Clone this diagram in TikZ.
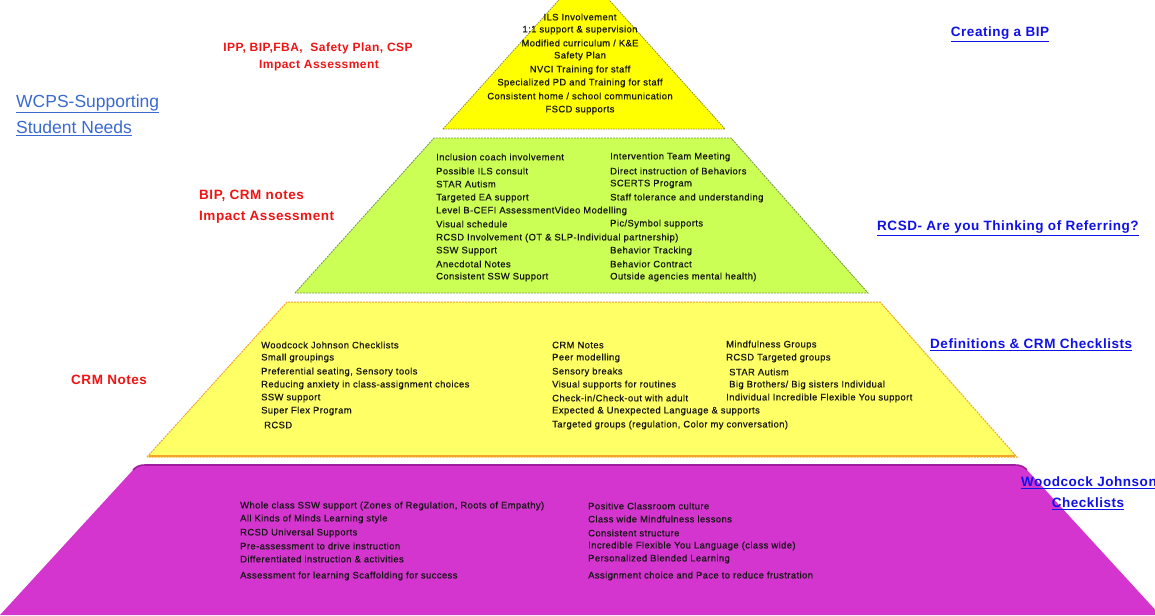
\documentclass[tikz,border=0pt]{standalone}
\usepackage{fontspec}
\setmainfont{Liberation Sans}
\newfontfamily\bodyf[LetterSpace=4.5, FakeBold=0.5]{Liberation Sans}
\newfontfamily\labf[LetterSpace=4]{Liberation Sans}
\definecolor{topY}{HTML}{FFFF00}
\definecolor{topB}{HTML}{8A8A40}
\definecolor{grn}{HTML}{CCFF55}
\definecolor{grnB}{HTML}{7A9A50}
\definecolor{yel}{HTML}{FFFF66}
\definecolor{yelB}{HTML}{F2A52A}
\definecolor{mag}{HTML}{D535CF}
\definecolor{magB}{HTML}{A01E9E}
\definecolor{redL}{HTML}{F01414}
\definecolor{blueL}{HTML}{1010E8}
\definecolor{wcps}{HTML}{3A6AD0}
\definecolor{txt}{HTML}{151515}
\tikzset{
  itm/.style={anchor=west, inner sep=0pt, text=txt, font=\bodyf\fontsize{9.4}{11}\selectfont},
  citm/.style={anchor=center, inner sep=0pt, text=txt, font=\bodyf\fontsize{9.4}{11}\selectfont},
  redlab/.style={inner sep=0pt, text=redL, font=\labf\bfseries\fontsize{13.5}{15}\selectfont},
  redsmall/.style={inner sep=0pt, text=redL, font=\labf\bfseries\fontsize{12}{14}\selectfont},
  link/.style={inner sep=0pt, text=blueL, font=\labf\bfseries\fontsize{13.5}{15}\selectfont},
}
\begin{document}
\begin{tikzpicture}[x=1pt,y=-1pt]
\useasboundingbox[fill=white] (0,0) rectangle (1155,615);
% tiers
\fill[mag] (0,615) -- (133,470) to[out=47,in=180] (145,465) -- (1015,465) to[out=0,in=133] (1027,470) -- (1160,615) -- cycle;
\draw[magB, line width=1.6pt] (133,470) to[out=47,in=180] (145,465) -- (1015,465) to[out=0,in=133] (1027,470);
\filldraw[fill=yel, draw=yelB, line width=1pt, dash pattern=on 2pt off 1pt] (147,457) -- (287,302) -- (880,302) -- (1017,457) -- cycle;
\draw[yelB, line width=2pt] (149,456) -- (1015,456);
\filldraw[fill=grn, draw=grnB, line width=0.9pt, dash pattern=on 2pt off 1pt] (295,293) -- (434,138) -- (731,138) -- (868,293) -- cycle;
\filldraw[fill=topY, draw=topB, line width=0.8pt, dash pattern=on 1.5pt off 1pt] (443,129) -- (584,-28) -- (725,129) -- cycle;
% top tier
\foreach \y/\t [count=\i] in {17/ILS Involvement, 30/1:1 support \& supervision, 43/{Modified curriculum / K\&E}, 56/Safety Plan, 70/NVCI Training for staff, 83/Specialized PD and Training for staff, 96/{Consistent home / school communication}, 110/FSCD supports}
  \node[citm] (t\i) at (580,\y) {\t};
% green tier
\foreach \y/\t [count=\i] in {157/Inclusion coach involvement, 171/Possible ILS consult, 184/STAR Autism, 198/Targeted EA support, 211/Level B-CEFI AssessmentVideo Modelling, 224/Visual schedule, 238/RCSD Involvement (OT \& SLP-Individual partnership), 251/SSW Support, 264/Anecdotal Notes, 277/Consistent SSW Support}
  \node[itm] (gl\i) at (436,\y) {\t};
\foreach \y/\t [count=\i] in {157/Intervention Team Meeting, 171/Direct instruction of Behaviors, 184/SCERTS Program, 198/Staff tolerance and understanding, 224/{Pic/Symbol supports}, 251/Behavior Tracking, 264/Behavior Contract, 277/Outside agencies  mental health)}
  \node[itm] (gr\i) at (610,\y) {\t};
% yellow tier
\foreach \y/\t [count=\i] in {345/Woodcock Johnson Checklists, 358/Small groupings, 372/{Preferential seating, Sensory tools}, 385/Reducing anxiety in class-assignment choices, 398/SSW support, 411/Super Flex Program, 425/\ RCSD}
  \node[itm] (yl\i) at (261,\y) {\t};
\foreach \y/\t [count=\i] in {345/CRM Notes, 358/Peer modelling, 372/Sensory breaks, 385/Visual supports for routines, 398/{Check-in/Check-out with adult}, 411/Expected \& Unexpected Language \& supports, 425/{Targeted groups (regulation, Color my conversation)}}
  \node[itm] (ym\i) at (552,\y) {\t};
\foreach \y/\t [count=\i] in {345/Mindfulness Groups, 358/RCSD Targeted groups, 372/\ STAR Autism, 385/{\ Big Brothers/ Big sisters Individual}, 398/Individual Incredible Flexible You support}
  \node[itm] (yr\i) at (726,\y) {\t};
% magenta tier
\foreach \y/\t [count=\i] in {506/{Whole class SSW support (Zones of Regulation, Roots of Empathy)}, 519/All Kinds of Minds Learning style, 533/RCSD Universal Supports, 546/Pre-assessment to drive instruction, 559/Differentiated instruction \& activities, 576/Assessment for learning Scaffolding for success}
  \node[itm] (ml\i) at (240,\y) {\t};
\foreach \y/\t [count=\i] in {506/Positive Classroom culture, 519/Class wide Mindfulness lessons, 533/Consistent structure, 546/Incredible Flexible You Language (class wide), 559/Personalized Blended Learning, 576/Assignment choice and Pace to reduce frustration}
  \node[itm] (mr\i) at (588,\y) {\t};
% side labels
\node[redsmall] (r1a) at (318,48) {IPP, BIP,FBA, \ Safety Plan, CSP};
\node[redsmall] (r1b) at (319,66) {Impact Assessment};
\node[inner sep=0pt, anchor=west, text=wcps, font=\fontsize{17.5}{20}\selectfont] (w1) at (16,104) {\underline{WCPS-Supporting}};
\node[inner sep=0pt, anchor=west, text=wcps, font=\fontsize{17.5}{20}\selectfont] (w2) at (16,128) {\underline{Student Needs}};
\node[redlab, anchor=west] (r2a) at (199,196) {BIP, CRM notes};
\node[redlab, anchor=west] (r2b) at (199,217) {Impact Assessment};
\node[redlab, anchor=west] (r3) at (71,380) {CRM Notes};
\node[link] (l1) at (1000,34) {\underline{Creating a BIP}};
\node[link, anchor=west] (l2) at (877,228) {\underline{RCSD- Are you Thinking of Referring?}};
\node[link, anchor=west] (l3) at (930,345) {\underline{Definitions \& CRM Checklists}};
\node[link, anchor=west] (l4) at (1021,483) {\underline{Woodcock Johnson}};
\node[link] (l5) at (1088,504) {\underline{Checklists}};
\end{tikzpicture}
\end{document}
